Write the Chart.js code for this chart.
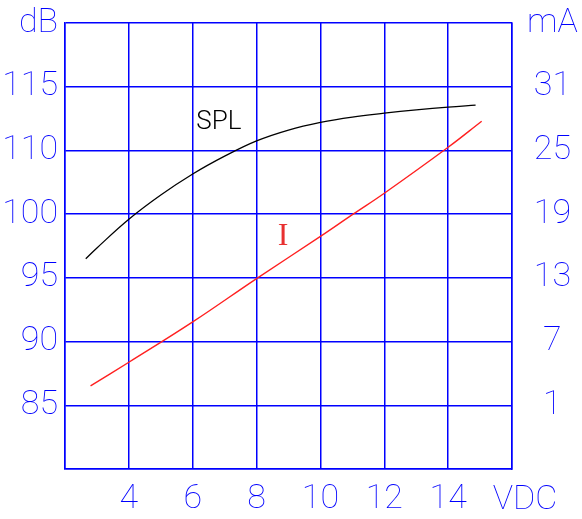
<!DOCTYPE html>
<html>
<head>
<meta charset="utf-8">
<script src="https://cdn.jsdelivr.net/npm/chart.js@4/dist/chart.umd.min.js"></script>
<style>
  html, body { margin: 0; padding: 0; background: #fff; }
  #wrap { width: 582px; height: 519px; }
</style>
</head>
<body>
<div id="wrap"><canvas id="chart"></canvas></div>
<script>
// axis ticks and their printed labels
const vdcTicks = [2, 4, 6, 8, 10, 12, 14, 16];
const vdcLabels = ['', '4', '6', '8', '10', '12', '14', ''];
const dbTicks = [80, 85, 90, 95, 100, 105, 110, 115];
const dbLabels = ['', '85', '90', '95', '100', '110', '115', 'dB'];
const maTicks = [-5, 1, 7, 13, 19, 25, 31, 37];
const maLabels = ['', '1', '7', '13', '19', '25', '31', 'mA'];

// SPL curve (left axis)
const splVolts = [2.65, 3, 4, 5, 6, 7, 8, 9, 10, 11, 12, 13, 14, 14.86];
const splDb = [96.5, 97.35, 99.6, 101.5, 103.15, 104.55, 105.75, 106.6, 107.2, 107.62, 107.92, 108.18, 108.4, 108.55];

// current curve (right axis)
const curVolts = [2.8, 4, 6, 8, 10, 11, 12, 14, 15.05];
const curMa = [2.82, 5.05, 8.85, 12.93, 16.9, 18.95, 20.97, 25.3, 27.75];

const BLUE = '#0000ff';
const tickFont = { family: 'Roboto', size: 34, weight: 100 };

function pts(xs, ys) {
  return xs.map((x, i) => ({ x: x, y: ys[i] }));
}

function fixedTicks(values) {
  return function (scale) {
    scale.ticks = values.map(v => ({ value: v }));
  };
}

function labelFrom(values, labels) {
  return function (value) {
    const i = values.indexOf(value);
    return i >= 0 ? labels[i] : '';
  };
}

// fixed axis sizes, no extra room for overhanging labels
function fitTo(size) {
  return function (scale) {
    if (scale.isHorizontal()) {
      scale.height = size;
    } else {
      scale.width = size;
    }
    scale.paddingTop = 0;
    scale.paddingBottom = 0;
    scale.paddingLeft = 0;
    scale.paddingRight = 0;
  };
}

const curveLabels = {
  id: 'curveLabels',
  afterDatasetsDraw(chart) {
    const ctx = chart.ctx;
    const x = chart.scales.x;
    const yl = chart.scales.yDb;
    const yr = chart.scales.yMa;
    ctx.save();
    ctx.textAlign = 'center';
    ctx.textBaseline = 'middle';

    ctx.fillStyle = '#000';
    ctx.font = '300 26px Roboto';
    ctx.fillText('SPL', x.getPixelForValue(6.82), yl.getPixelForValue(107.2));

    ctx.fillStyle = '#e83030';
    ctx.font = '32px "Liberation Serif"';
    ctx.fillText('I', x.getPixelForValue(8.83), yr.getPixelForValue(16.85));

    ctx.fillStyle = BLUE;
    ctx.font = '100 34px Roboto';
    ctx.fillText('VDC', x.getPixelForValue(16) + 13, x.top + 31);
    ctx.restore();
  }
};

new Chart(document.getElementById('chart'), {
  type: 'line',
  data: {
    datasets: [
      {
        label: 'SPL',
        data: pts(splVolts, splDb),
        yAxisID: 'yDb',
        borderColor: '#000',
        borderWidth: 1.3,
        pointRadius: 0,
        tension: 0.4,
        fill: false
      },
      {
        label: 'I',
        data: pts(curVolts, curMa),
        yAxisID: 'yMa',
        borderColor: '#ff2020',
        borderWidth: 1.4,
        pointRadius: 0,
        tension: 0.4,
        fill: false
      }
    ]
  },
  options: {
    responsive: true,
    maintainAspectRatio: false,
    animation: false,
    layout: { padding: { top: 23, left: 0, right: 0, bottom: 0 } },
    plugins: {
      legend: { display: false },
      tooltip: { enabled: false }
    },
    scales: {
      x: {
        type: 'linear',
        min: 2,
        max: 16,
        afterBuildTicks: fixedTicks(vdcTicks),
        afterFit: fitTo(50),
        grid: { color: BLUE, lineWidth: 1.5, drawTicks: false },
        border: { color: BLUE, width: 1.5 },
        ticks: {
          color: BLUE,
          font: tickFont,
          padding: 10,
          maxRotation: 0,
          autoSkip: false,
          callback: labelFrom(vdcTicks, vdcLabels)
        }
      },
      yDb: {
        type: 'linear',
        position: 'left',
        min: 80,
        max: 115,
        afterBuildTicks: fixedTicks(dbTicks),
        afterFit: fitTo(65),
        grid: { color: BLUE, lineWidth: 1.5, drawTicks: false },
        border: { color: BLUE, width: 1.5 },
        ticks: {
          color: BLUE,
          font: tickFont,
          padding: 7,
          autoSkip: false,
          callback: labelFrom(dbTicks, dbLabels)
        }
      },
      yMa: {
        type: 'linear',
        position: 'right',
        min: -5,
        max: 37,
        afterBuildTicks: fixedTicks(maTicks),
        afterFit: fitTo(70),
        grid: { display: false, drawTicks: false },
        border: { color: BLUE, width: 1.5 },
        ticks: {
          color: BLUE,
          font: tickFont,
          padding: 15,
          crossAlign: 'center',
          autoSkip: false,
          callback: labelFrom(maTicks, maLabels)
        }
      }
    }
  },
  plugins: [curveLabels]
});
</script>
</body>
</html>
